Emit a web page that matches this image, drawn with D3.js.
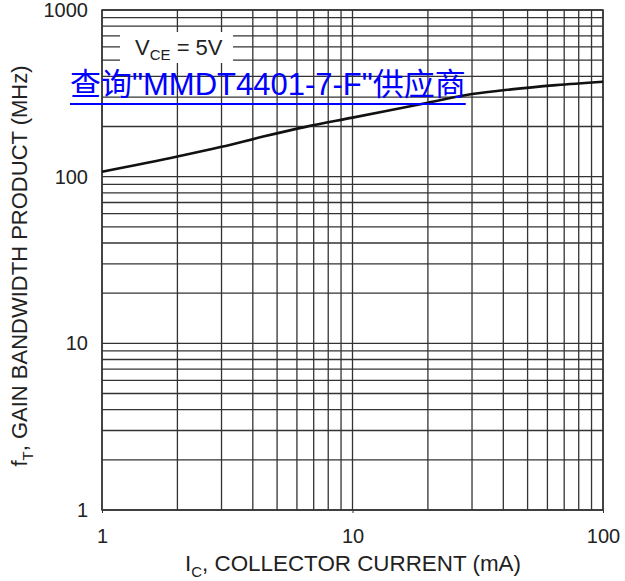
<!DOCTYPE html>
<html>
<head>
<meta charset="utf-8">
<script src="https://cdn.jsdelivr.net/npm/d3@7"></script>
<style>
  body { margin: 0; background: #fff; }
  text { font-family: "Liberation Sans", Arial, "Noto Sans CJK SC", sans-serif; }
</style>
</head>
<body>
<div id="chart"></div>
<script>
// collector current (mA) and gain bandwidth product (MHz)
const currents = [1, 2, 3, 4.4, 6.5, 10, 20, 30, 43, 65, 100];
const ftValues = [107, 132, 151, 174, 199, 226, 278, 313, 334, 354, 371];

const xTicks = [1, 10, 100];
const yTicks = [1, 10, 100, 1000];

const width = 625;
const height = 581;
const margin = { top: 10, right: 22, bottom: 71, left: 102 };
const w = width - margin.left - margin.right;
const h = height - margin.top - margin.bottom;

const svg = d3.select('#chart')
  .append('svg')
  .attr('width', width)
  .attr('height', height);

const g = svg.append('g')
  .attr('transform', `translate(${margin.left},${margin.top})`);

const x = d3.scaleLog().domain([1, 100]).range([0, w]);
const y = d3.scaleLog().domain([1, 1000]).range([h, 0]);

// grid: every integer inside each decade
const xGrid = [];
for (let d = 1; d < 100; d *= 10) for (let k = 1; k <= 10; k++) xGrid.push(k * d);
const yGrid = [];
for (let d = 1; d < 1000; d *= 10) for (let k = 1; k <= 10; k++) yGrid.push(k * d);

g.append('g').selectAll('line')
  .data(Array.from(new Set(xGrid)))
  .enter().append('line')
  .attr('x1', d => x(d)).attr('x2', d => x(d))
  .attr('y1', 0).attr('y2', h)
  .attr('stroke', '#333').attr('stroke-width', 1.3);

g.append('g').selectAll('line')
  .data(Array.from(new Set(yGrid)))
  .enter().append('line')
  .attr('x1', 0).attr('x2', w)
  .attr('y1', d => y(d)).attr('y2', d => y(d))
  .attr('stroke', '#333').attr('stroke-width', 1.3);

g.append('rect')
  .attr('width', w).attr('height', h)
  .attr('fill', 'none').attr('stroke', '#333').attr('stroke-width', 1.5);

// axes (labels only)
const xAxis = g.append('g')
  .attr('transform', `translate(0,${h})`)
  .call(d3.axisBottom(x).tickValues(xTicks).tickFormat(d3.format('d')).tickSize(3).tickPadding(16));
const yAxis = g.append('g')
  .call(d3.axisLeft(y).tickValues(yTicks).tickFormat(d3.format('d')).tickSize(0).tickPadding(14));
[xAxis, yAxis].forEach(a => {
  a.select('.domain').remove();
  a.selectAll('text').attr('font-size', 20).attr('fill', '#222')
    .attr('font-family', '"Liberation Sans", Arial, sans-serif');
  a.selectAll('line').attr('stroke', '#333');
});

// curve
const line = d3.line()
  .x((d, i) => x(currents[i]))
  .y(d => y(d))
  .curve(d3.curveMonotoneX);

g.append('path')
  .datum(ftValues)
  .attr('d', line)
  .attr('fill', 'none')
  .attr('stroke', '#111')
  .attr('stroke-width', 2.6);

// condition label with white box
svg.append('rect')
  .attr('x', 120).attr('y', 32).attr('width', 113).attr('height', 31)
  .attr('fill', '#fff');
const vce = svg.append('text')
  .attr('x', 135).attr('y', 55)
  .attr('font-size', 22).attr('fill', '#222');
vce.append('tspan').text('V');
vce.append('tspan').attr('font-size', 15).attr('dy', 5).text('CE');
vce.append('tspan').attr('dy', -5).text(' = 5V');

// axis titles
const xt = svg.append('text')
  .attr('x', 353).attr('y', 571)
  .attr('text-anchor', 'middle')
  .attr('font-size', 22.4).attr('fill', '#222');
xt.append('tspan').text('I');
xt.append('tspan').attr('font-size', 15).attr('dy', 6).text('C');
xt.append('tspan').attr('dy', -6).text(', COLLECTOR CURRENT (mA)');

const yt = svg.append('text')
  .attr('transform', 'translate(27,266) rotate(-90)')
  .attr('text-anchor', 'middle')
  .attr('font-size', 22).attr('fill', '#222');
yt.append('tspan').text('f');
yt.append('tspan').attr('font-size', 15).attr('dy', 6).text('T');
yt.append('tspan').attr('dy', -6).text(', GAIN BANDWIDTH PRODUCT (MHz)');

// blue link text overlay
const link = svg.append('text')
  .attr('x', 70).attr('y', 95)
  .attr('font-size', 31).attr('fill', '#0000ff')
  .attr('font-family', '"Liberation Sans", Arial, "Noto Sans CJK SC", sans-serif')
  .text('查询"MMDT4401-7-F"供应商');
const linkLen = link.node().getComputedTextLength();
svg.append('line')
  .attr('x1', 70).attr('x2', 70 + linkLen)
  .attr('y1', 104).attr('y2', 104)
  .attr('stroke', '#0000ff').attr('stroke-width', 2);
</script>
</body>
</html>
